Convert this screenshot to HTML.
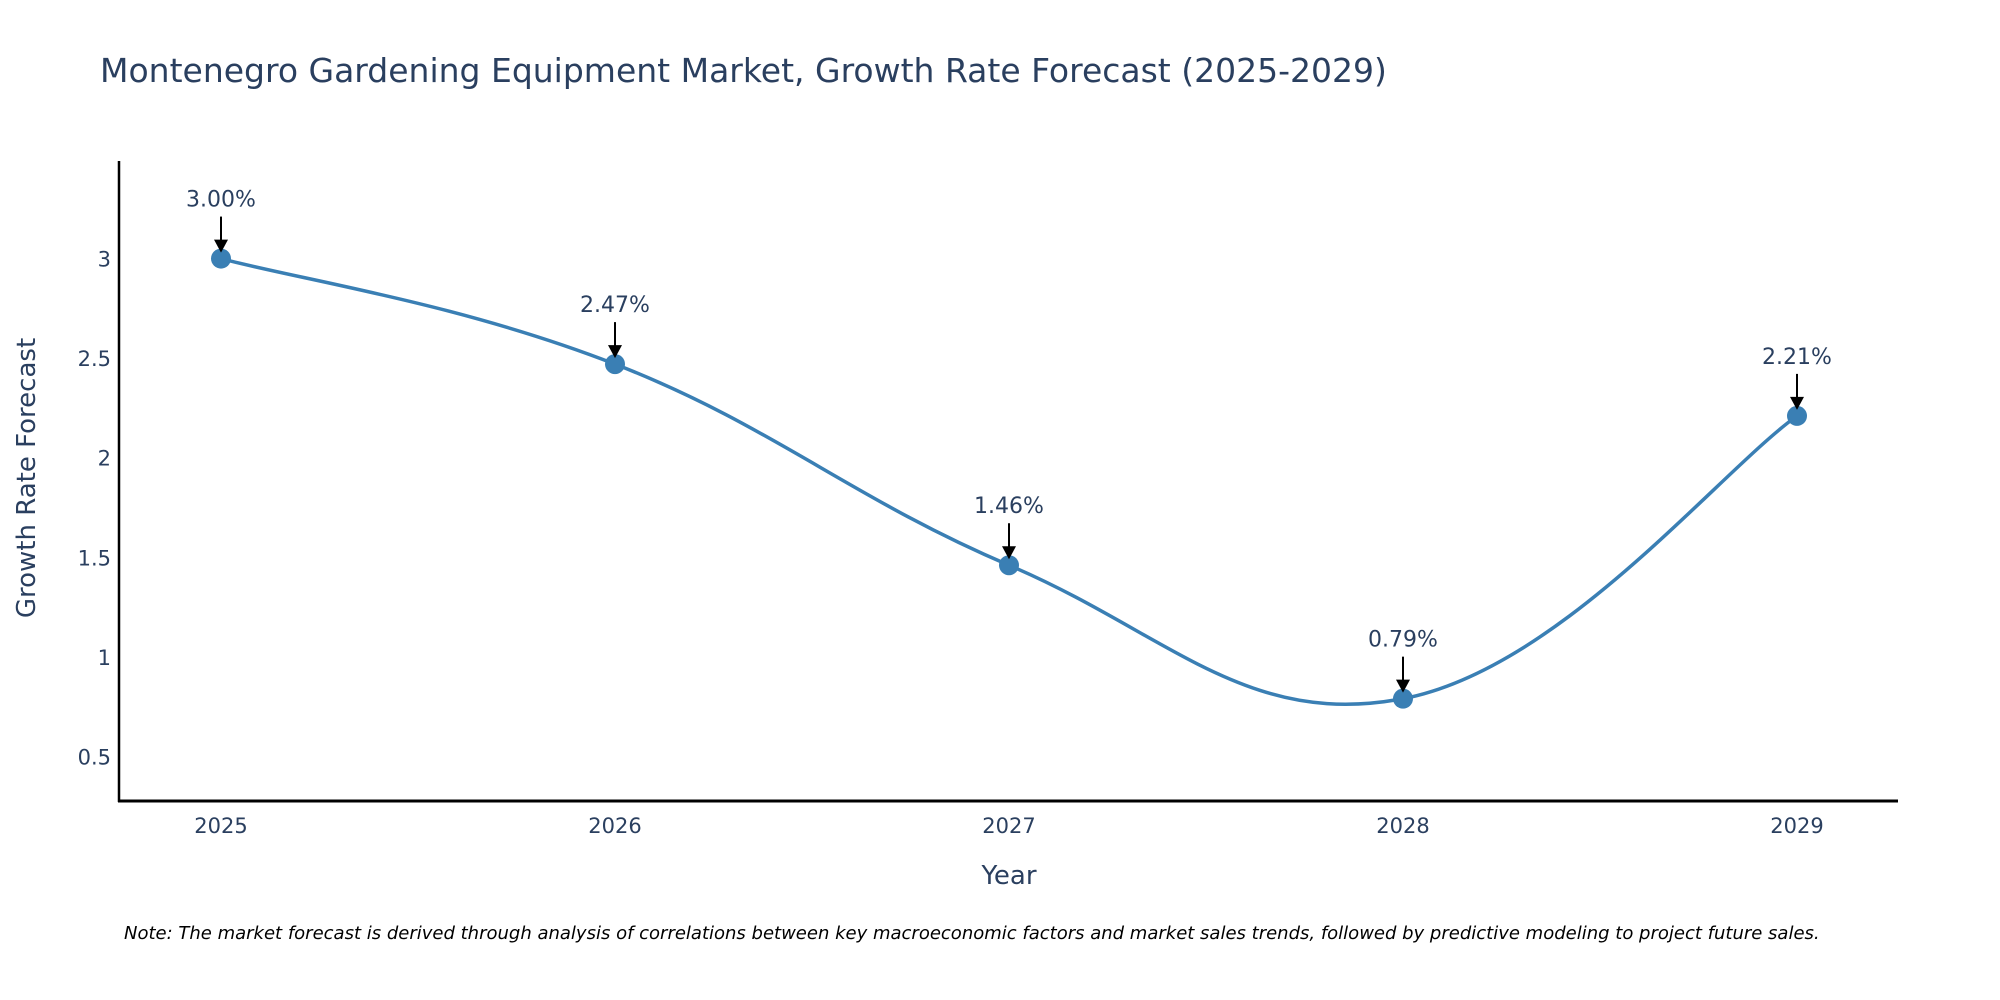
<!DOCTYPE html>
<html><head><meta charset="utf-8"><style>
html,body{margin:0;padding:0;background:#fff;}
svg{display:block;font-family:"DejaVu Sans","Liberation Sans",sans-serif;}
</style></head><body>
<svg id="chart" width="2000" height="1000" viewBox="0 0 2000 1000">
<text x="100" y="82" font-size="33" fill="#2a3f5f">Montenegro Gardening Equipment Market, Growth Rate Forecast (2025-2029)</text>
<g id="yticks"></g>
<g id="xticks"></g>
<line x1="119" y1="161" x2="119" y2="802" stroke="#000" stroke-width="2.5"/>
<line x1="118" y1="801" x2="1898" y2="801" stroke="#000" stroke-width="3"/>
<text x="1009" y="884" font-size="26" fill="#2a3f5f" text-anchor="middle">Year</text>
<text transform="translate(35,478) rotate(-90)" font-size="26" fill="#2a3f5f" text-anchor="middle">Growth Rate Forecast</text>
<g id="series"></g>
<text x="124" y="939" font-size="18" font-style="italic" fill="#000">Note: The market forecast is derived through analysis of correlations between key macroeconomic factors and market sales trends, followed by predictive modeling to project future sales.</text>
</svg>
<script>
const categories = ["2025","2026","2027","2028","2029"];
const values = [3.00, 2.47, 1.46, 0.79, 2.21];
const valueLabels = ["3.00%","2.47%","1.46%","0.79%","2.21%"];
const yTickValues = [0.5, 1, 1.5, 2, 2.5, 3];
const yTickLabels = ["0.5","1","1.5","2","2.5","3"];

const NS = "http://www.w3.org/2000/svg";
const X0 = 221, X1 = 1797;
function xScale(i){ return X0 + (X1 - X0) * i / (categories.length - 1); }
const YMIN = 0.276, YMAX = 3.49, PT = 161, PB = 801;
function yScale(v){ return PB - (v - YMIN) / (YMAX - YMIN) * (PB - PT); }
function mk(tag, attrs){ const e = document.createElementNS(NS, tag); for (const k in attrs) e.setAttribute(k, attrs[k]); return e; }

const yt = document.getElementById('yticks');
yTickValues.forEach((v, i) => {
  const t = mk('text', {x: 111, y: yScale(v) + 8, 'font-size': 21, fill: '#2a3f5f', 'text-anchor': 'end'});
  
  
  t.textContent = yTickLabels[i];
  yt.appendChild(t);
});
const xt = document.getElementById('xticks');
categories.forEach((c, i) => {
  const t = mk('text', {x: xScale(i), y: 833, 'font-size': 21, fill: '#2a3f5f', 'text-anchor': 'middle'});
  
  
  t.textContent = c;
  xt.appendChild(t);
});

const pts = values.map((v, i) => [xScale(i), yScale(v)]);
let d = `M${pts[0][0]},${pts[0][1]}`;
const k = 0.2;
for (let i = 0; i < pts.length - 1; i++) {
  const p0 = pts[Math.max(0, i - 1)], p1 = pts[i], p2 = pts[i + 1], p3 = pts[Math.min(pts.length - 1, i + 2)];
  const c1 = [p1[0] + (p2[0] - p0[0]) * k, p1[1] + (p2[1] - p0[1]) * k];
  const c2 = [p2[0] - (p3[0] - p1[0]) * k, p2[1] - (p3[1] - p1[1]) * k];
  d += ` C${c1[0]},${c1[1]} ${c2[0]},${c2[1]} ${p2[0]},${p2[1]}`;
}
const g = document.getElementById('series');
const line = mk('path', {d: d, fill: 'none', stroke: '#3a7fb4', 'stroke-width': 3.5});


g.appendChild(line);

pts.forEach((p, i) => {
  const c = mk('circle', {cx: p[0], cy: p[1], r: 10, fill: '#3a7fb4'});
  
  
  g.appendChild(c);
  const a = mk('line', {x1: p[0], y1: p[1] - 42, x2: p[0], y2: p[1] - 18, stroke: '#000', 'stroke-width': 2});
  
  
  g.appendChild(a);
  const h = mk('polygon', {points: `${p[0]-7},${p[1]-19} ${p[0]+7},${p[1]-19} ${p[0]},${p[1]-6}`, fill: '#000'});
  
  
  g.appendChild(h);
  const t = mk('text', {x: p[0], y: p[1] - 52, 'font-size': 22, fill: '#2a3f5f', 'text-anchor': 'middle'});
  
  
  t.textContent = valueLabels[i];
  g.appendChild(t);
});
</script>
</body></html>
